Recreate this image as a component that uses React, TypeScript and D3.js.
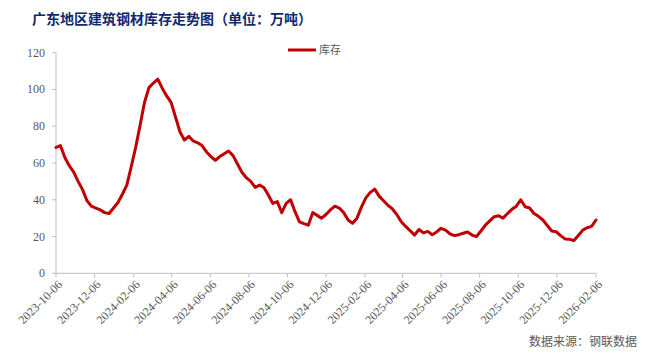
import React from "react";
import * as d3 from "d3";

// weekly inventory, 10k tonnes, starting 2023-10-06 (Fridays)
const startDate = "2023-10-06";
const inventory = [
  68.5, 69.5, 63, 58.5, 55, 50, 45.5, 39.5, 36.5, 35.5, 34.5, 33, 32.5, 35.5, 38.5, 43, 48, 58, 68.5, 80.5,
  93, 101, 103.5, 105.6, 100.7, 96.5, 93, 85, 77, 72.5, 74.5, 72, 71, 69.5, 66, 63.5, 61.5, 63.5, 65, 66.5,
  64, 59.5, 55, 52, 50, 46.7, 48, 46.5, 42.5, 38, 39, 33, 38, 40, 33.5, 28, 27, 26.2, 33, 31.5,
  30, 32, 34.5, 36.5, 35.5, 33, 29, 27.2, 30, 36, 41, 44, 45.8, 42, 39.5, 37, 35, 32, 28, 25.5,
  23.2, 20.8, 23.8, 22, 22.8, 21, 22.5, 24.5, 23.5, 21.5, 20.5, 21, 21.8, 22.5, 20.8, 20, 23, 26.2, 28.5, 30.8,
  31.3, 30, 32.5, 34.8, 36.5, 40, 36.2, 35.5, 32.5, 31, 29, 26, 23, 22.6, 20.5, 18.7, 18.5, 17.8, 20.5, 23.5,
  24.8, 25.5, 29,
];
const xTickLabels = [
  "2023-10-06", "2023-12-06", "2024-02-06", "2024-04-06", "2024-06-06", "2024-08-06", "2024-10-06",
  "2024-12-06", "2025-02-06", "2025-04-06", "2025-06-06", "2025-08-06", "2025-10-06", "2025-12-06",
  "2026-02-06",
];
const yTicks = [0, 20, 40, 60, 80, 100, 120];

const W = 657,
  H = 359;
const parse = d3.utcParse("%Y-%m-%d");
const serif = "'Liberation Serif', 'Times New Roman', serif";
const cjk = "'Noto Sans CJK SC', sans-serif";
const textGrey = "#595959";
const axisGrey = "#BFBFBF";

export default function App() {
  const t0 = parse(startDate)!;
  const points = inventory.map((v, i) => ({ date: d3.utcDay.offset(t0, i * 7), v }));
  const x = d3
    .scaleUtc()
    .domain([parse(xTickLabels[0])!, parse(xTickLabels[xTickLabels.length - 1])!])
    .range([56, 596]);
  const y = d3.scaleLinear().domain([0, 120]).range([273.3, 52.7]);
  const lineGen = d3
    .line<{ date: Date; v: number }>()
    .x((d) => x(d.date))
    .y((d) => y(d.v));
  const y0 = y(0);

  return (
    <div style={{ position: "fixed", left: 0, top: 0, background: "#fff" }}>
      <svg width={W} height={H} viewBox={`0 0 ${W} ${H}`}>
        <rect width={W} height={H} fill="#fff" />
        <text x={32} y={24} fontFamily={cjk} fontWeight="bold" fontSize={14} fill="#0E2A6B">
          广东地区建筑钢材库存走势图（单位：万吨）
        </text>

        {/* legend */}
        <line x1={288} x2={316} y1={50} y2={50} stroke="#C00000" strokeWidth={3} />
        <text x={319} y={54} fontFamily={cjk} fontSize={11} fill={textGrey}>
          库存
        </text>

        {/* y axis */}
        <line x1={56} x2={56} y1={y(120)} y2={y0} stroke={axisGrey} />
        {yTicks.map((t) => (
          <g key={t}>
            <line x1={52} x2={56} y1={y(t)} y2={y(t)} stroke={axisGrey} />
            <text x={45} y={y(t) + 4} textAnchor="end" fontFamily={serif} fontSize={12} fill={textGrey}>
              {t}
            </text>
          </g>
        ))}

        {/* x axis */}
        <line x1={56} x2={596} y1={y0} y2={y0} stroke={axisGrey} />
        {xTickLabels.map((s) => {
          const px = x(parse(s)!);
          return (
            <g key={s}>
              <line x1={px} x2={px} y1={y0} y2={y0 + 4} stroke={axisGrey} />
              <text
                transform={`translate(${px + 4},${y0 + 9}) rotate(-45)`}
                textAnchor="end"
                dy="0.35em"
                fontFamily={serif}
                fontSize={12}
                fill={textGrey}
              >
                {s}
              </text>
            </g>
          );
        })}

        <path
          d={lineGen(points) || ""}
          fill="none"
          stroke="#C00000"
          strokeWidth={3}
          strokeLinejoin="round"
          strokeLinecap="round"
        />

        <text x={529} y={346} fontFamily={cjk} fontSize={12} fill={textGrey}>
          数据来源：钢联数据
        </text>
      </svg>
    </div>
  );
}
